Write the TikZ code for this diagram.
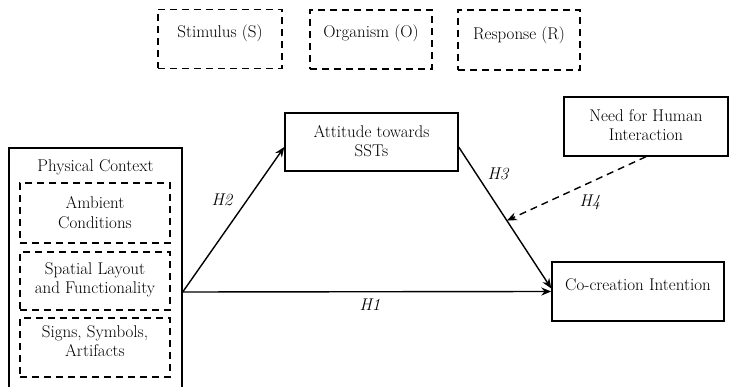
\documentclass[tikz,border=0pt]{standalone}
\usetikzlibrary{arrows.meta}
\begin{document}
\begin{tikzpicture}[x=1pt,y=-1pt,
  txt/.style={font=\fontsize{17}{19.5}\selectfont, align=center, inner sep=0pt},
  hlab/.style={font=\fontsize{17}{19.5}\selectfont\itshape, inner sep=0pt},
  sbox/.style={draw, line width=1.4pt, minimum width=#1, inner sep=0pt},
  dbox/.style={draw, line width=1.4pt, dash pattern=on 7pt off 5pt, inner sep=0pt},
  arr/.style={line width=1.4pt, -{Stealth[length=10pt,width=8pt]}}
]
\useasboundingbox (0,0) rectangle (729,387);
\clip (0,0) rectangle (729,387);
% SOR boxes
\node[dbox, minimum width=124pt, minimum height=59pt] (stim) at (220,39) {};
\node[dbox, minimum width=122pt, minimum height=59pt] (org) at (371,39.5) {};
\node[dbox, minimum width=122pt, minimum height=60pt] (resp) at (519,40) {};
\node[txt] (stimt) at (220,33) {Stimulus (S)};
\node[txt] (orgt) at (371,33) {Organism (O)};
\node[txt] (respt) at (519,35) {Response (R)};
% Physical context
\node[sbox=173pt, minimum height=260pt] (phys) at (95.5,278) {};
\node[txt] (physt) at (95.5,167) {Physical Context};
\node[dbox, minimum width=150pt, minimum height=60pt] (amb) at (95,213) {};
\node[txt] (ambt) at (95,212.5) {Ambient\\Conditions};
\node[dbox, minimum width=150pt, minimum height=58pt] (spa) at (95,281) {};
\node[txt] (spat) at (95,280) {Spatial Layout\\and Functionality};
\node[dbox, minimum width=150pt, minimum height=59pt] (sig) at (95,347.5) {};
\node[txt] (sigt) at (95,341) {Signs, Symbols,\\Artifacts};
% Other boxes
\node[sbox=173pt, minimum height=58pt] (att) at (371.5,142) {};
\node[txt] (attt) at (371.5,141) {Attitude towards\\SSTs};
\node[sbox=164pt, minimum height=59pt] (need) at (646,126.5) {};
\node[txt] (needt) at (646,125) {Need for Human\\Interaction};
\node[sbox=172pt, minimum height=59pt] (co) at (638,291.5) {};
\node[txt] (cot) at (638,285) {Co-creation Intention};
% connectors
\coordinate (src) at ([yshift=-14pt]phys.east);
\draw[arr] (src) -- ([yshift=-5pt]att.west);
\draw[arr] (src) -- (co.west);
\draw[arr] ([yshift=-5pt]att.east) -- coordinate[pos=0.52] (mid) ([yshift=3pt]co.west);
\draw[arr, dashed, dash pattern=on 7pt off 5pt] (need.south) -- (mid);
% labels
\node[hlab] (h2) at (222,200) {H2};
\node[hlab] (h3) at (498,174) {H3};
\node[hlab] (h4) at (590,202) {H4};
\node[hlab] (h1) at (370,305) {H1};
\end{tikzpicture}
\end{document}
